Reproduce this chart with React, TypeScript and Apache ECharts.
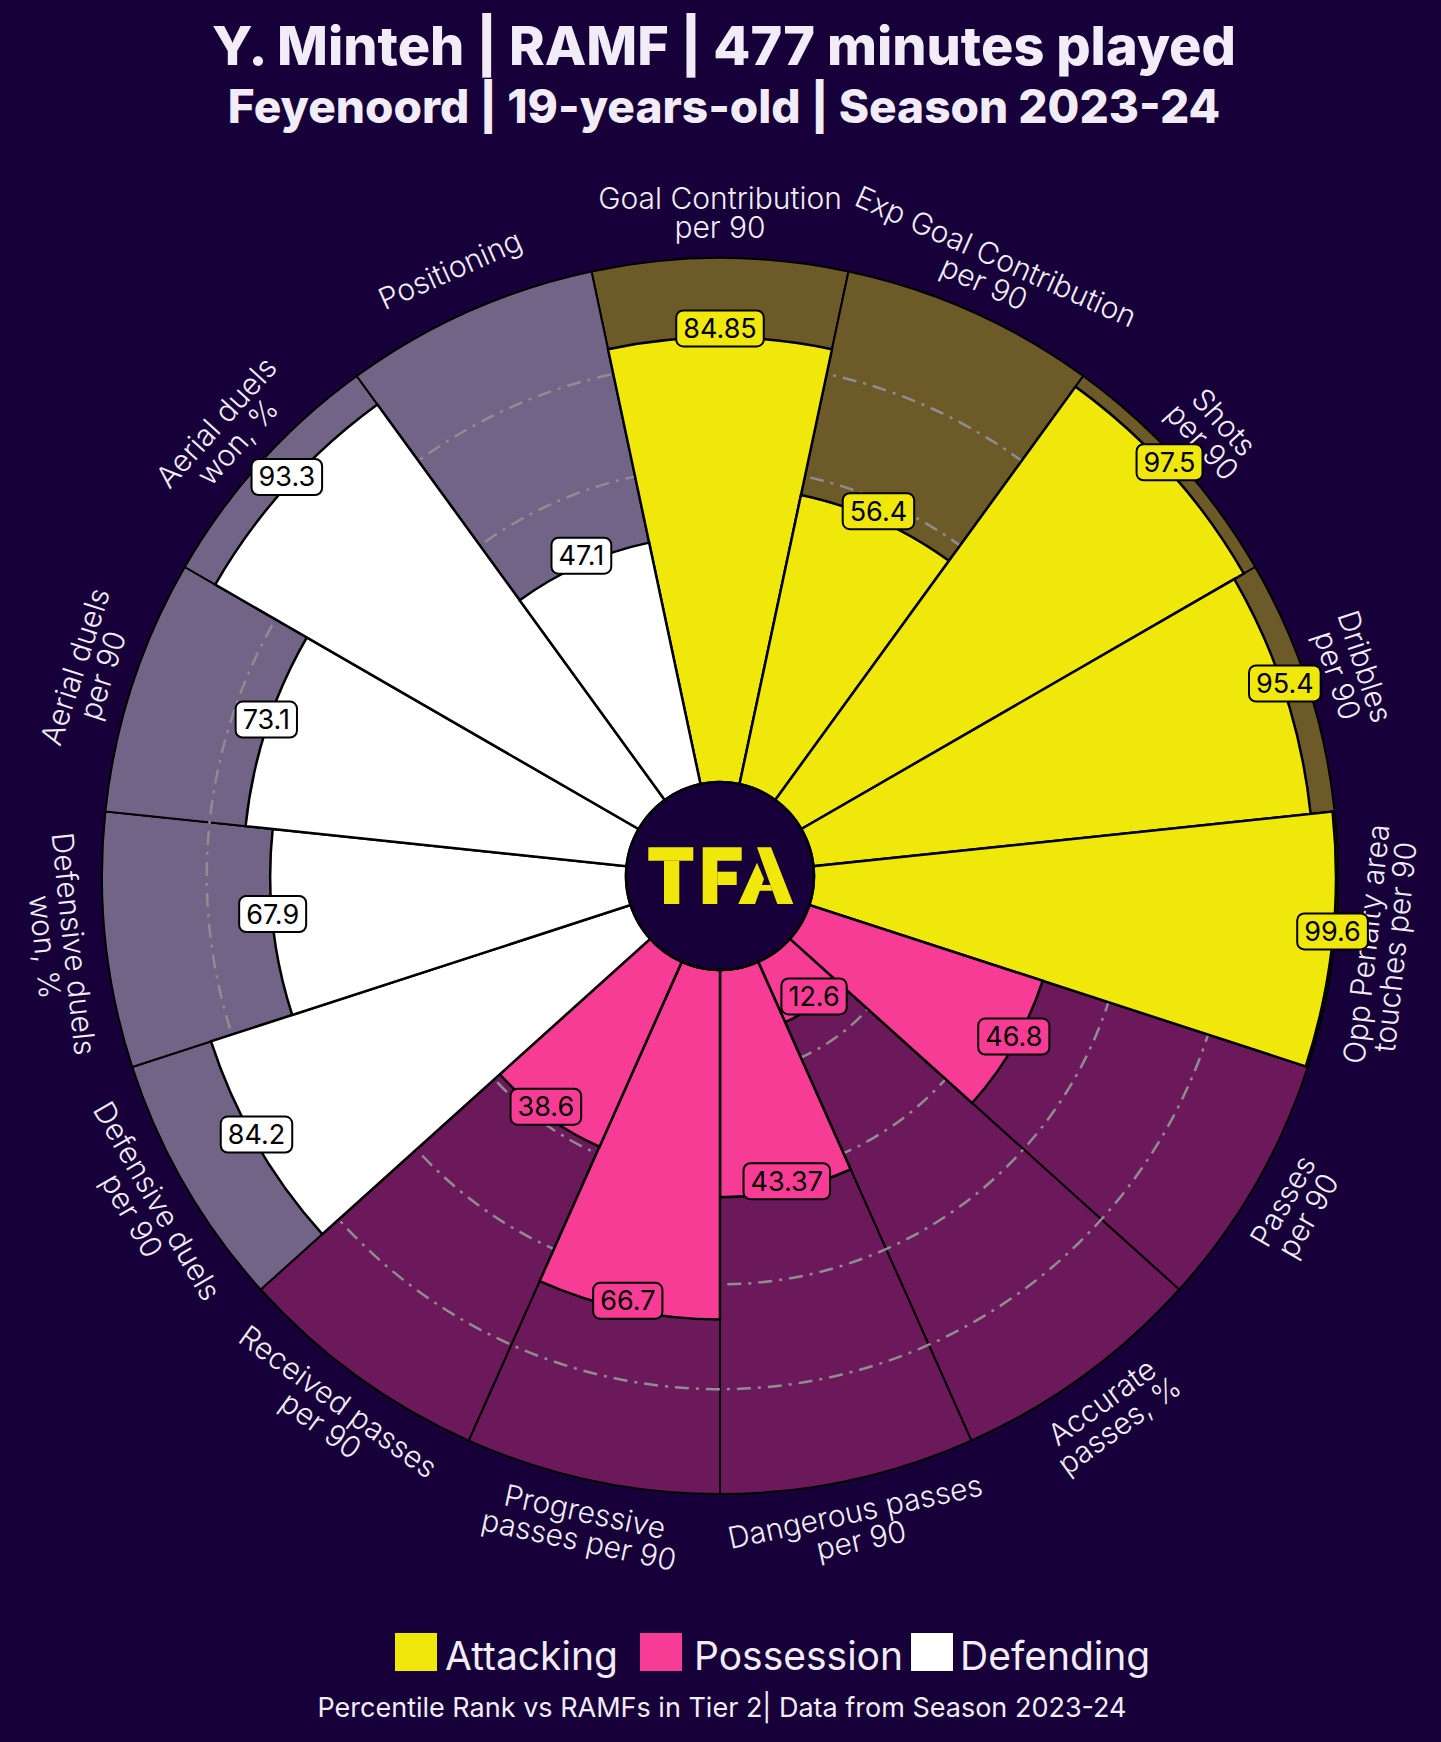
import React, { useEffect, useRef } from "react";
import * as echarts from "echarts";

const PAGE_W = 1441;
const PAGE_H = 1742;
const CX = 720;
const CY = 876;
const INNER_R = 94;
const OUTER_R = 618;
const LABEL_R = 664;
const BG = "#170039";
const TEXT_COLOR = "#F2ECF6";

const categories = [
  "Goal Contribution\nper 90",
  "Exp Goal Contribution\nper 90",
  "Shots\nper 90",
  "Dribbles\nper 90",
  "Opp Penalty area\ntouches per 90",
  "Passes\nper 90",
  "Accurate\npasses, %",
  "Dangerous passes\nper 90",
  "Progressive\npasses per 90",
  "Received passes\nper 90",
  "Defensive duels\nper 90",
  "Defensive duels\nwon, %",
  "Aerial duels\nper 90",
  "Aerial duels\nwon, %",
  "Positioning",
];

const groups = [
  "Attacking", "Attacking", "Attacking", "Attacking", "Attacking",
  "Possession", "Possession", "Possession", "Possession", "Possession",
  "Defending", "Defending", "Defending", "Defending", "Defending",
];

const values = [84.85, 56.4, 97.5, 95.4, 99.6, 46.8, 12.6, 43.37, 66.7, 38.6, 84.2, 67.9, 73.1, 93.3, 47.1];

const radiusMin = 0;
const radiusMax = 100;
const radiusInterval = 20;

const legendNames = ["Attacking", "Possession", "Defending"];

const barColors: Record<string, string> = {
  Attacking: "#F0E80A",
  Possession: "#F73C95",
  Defending: "#FFFFFF",
};
const sliceColors: Record<string, string> = {
  Attacking: "#6C5A29",
  Possession: "#6C195C",
  Defending: "#716487",
};

const titleText = "Y. Minteh | RAMF | 477 minutes played";
const subtitleText = "Feyenoord | 19-years-old | Season 2023-24";
const footerText = "Percentile Rank vs RAMFs in Tier 2| Data from Season 2023-24";

const LEGEND_SQ_X = [395, 640, 911];
const LEGEND_TX_X = [445, 694, 960];

function logoElements() {
  const Y = "#F0E80A";
  const poly = (pts: number[][]) => ({
    type: "polygon",
    z: 21,
    shape: { points: pts.map(([x, y]) => [CX + x, CY + y]) },
    style: { fill: Y },
  });
  return [
    poly([[-71.7, -28.7], [-26.7, -28.7], [-26.7, -15.3], [-71.7, -15.3]]),
    poly([[-56, -15.3], [-40.7, -15.3], [-40.7, 28], [-56, 28]]),
    poly([[-17.3, -28.7], [21.7, -28.7], [21.7, -15.3], [-2.7, -15.3], [-2.7, 28], [-17.3, 28]]),
    poly([[-2.7, -4.3], [16.7, -4.3], [16.7, 9], [-2.7, 9]]),
    poly([[37, -28.7], [51, -28.7], [73.3, 28], [57.3, 28]]),
    poly([[37, -13.3], [44, 3], [35, 28], [18.3, 28]]),
    poly([[28, 9], [50.5, 9], [52.5, 14.7], [26, 14.7]]),
  ];
}

export default function App() {
  const ref = useRef<HTMLDivElement>(null);

  useEffect(() => {
    document.body.style.margin = "0";
    document.body.style.background = BG;
    const chart = echarts.init(ref.current!, null, { renderer: "svg", width: PAGE_W, height: PAGE_H });

    const gridColors = [];
    for (let v = radiusMin; v <= radiusMax; v += radiusInterval) {
      gridColors.push(v === radiusMin || v === radiusMax ? "rgba(0,0,0,0)" : "#8E8E8E");
    }

    const legendGraphics: any[] = [];
    legendNames.forEach((name, k) => {
      legendGraphics.push({
        type: "rect",
        z: 20,
        shape: { x: LEGEND_SQ_X[k], y: 1633, width: 42, height: 38 },
        style: { fill: barColors[name] },
      });
      legendGraphics.push({
        type: "text",
        z: 20,
        x: LEGEND_TX_X[k],
        y: 1655,
        style: {
          text: name,
          fill: TEXT_COLOR,
          fontFamily: "Inter",
          fontWeight: 400,
          fontSize: 39,
          align: "left",
          verticalAlign: "middle",
        },
      });
    });

    const option: any = {
      animation: false,
      backgroundColor: BG,
      polar: { center: [CX, CY], radius: [INNER_R, OUTER_R] },
      angleAxis: {
        type: "category",
        data: categories,
        startAngle: 102,
        clockwise: true,
        boundaryGap: true,
        axisLine: { show: false },
        axisTick: { show: false },
        axisLabel: { show: false },
        splitLine: { show: false },
        splitArea: { show: false },
      },
      radiusAxis: {
        type: "value",
        min: radiusMin,
        max: radiusMax,
        interval: radiusInterval,
        z: 2,
        axisLine: { show: false },
        axisTick: { show: false },
        axisLabel: { show: false },
        splitLine: {
          show: true,
          lineStyle: { color: gridColors, width: 2.5, type: [14, 7, 3, 7] },
        },
      },
      series: [
        {
          type: "bar",
          name: "background",
          coordinateSystem: "polar",
          silent: true,
          z: 1,
          barCategoryGap: "0%",
          barGap: "-100%",
          data: groups.map((g) => ({ value: radiusMax, itemStyle: { color: sliceColors[g] } })),
          itemStyle: { borderColor: "#000000", borderWidth: 2 },
        },
        {
          type: "bar",
          name: "percentile",
          coordinateSystem: "polar",
          z: 3,
          barCategoryGap: "0%",
          barGap: "-100%",
          data: values.map((v, i) => ({ value: v, itemStyle: { color: barColors[groups[i]] } })),
          itemStyle: { borderColor: "#000000", borderWidth: 2.5 },
        },
        {
          type: "custom",
          name: "valueLabels",
          coordinateSystem: "polar",
          z: 5,
          encode: { radius: 0, angle: 1 },
          data: values.map((v, i) => [v, i]),
          renderItem: (params: any, api: any) => {
            const v = api.value(0);
            const i = api.value(1);
            const p = api.coord([v, i]);
            return {
              type: "text",
              x: p[0],
              y: p[1] - 9,
              z2: 10,
              style: {
                text: String(values[i]),
                fill: "#000000",
                fontFamily: "Inter",
                fontSize: 27,
                align: "center",
                verticalAlign: "middle",
                backgroundColor: barColors[groups[i]],
                borderColor: "#000000",
                borderWidth: 2,
                borderRadius: 6,
                padding: [4, 6, 3, 6],
              },
            };
          },
        },
        {
          type: "custom",
          name: "categoryLabels",
          coordinateSystem: "polar",
          z: 5,
          encode: { radius: 0, angle: 1 },
          data: categories.map((_, i) => [radiusMax, i]),
          renderItem: (params: any, api: any) => {
            const i = api.value(1);
            const p = api.coord([api.value(0), i]);
            const th = Math.atan2(-(p[1] - CY), p[0] - CX);
            let rot = (th * 180) / Math.PI - 90;
            while (rot > 180) rot -= 360;
            while (rot <= -180) rot += 360;
            if (rot > 90) rot -= 180;
            if (rot < -90) rot += 180;
            return {
              type: "text",
              x: CX + LABEL_R * Math.cos(th),
              y: CY - LABEL_R * Math.sin(th),
              rotation: (rot * Math.PI) / 180,
              style: {
                text: categories[i],
                fill: TEXT_COLOR,
                fontFamily: "Inter",
                fontWeight: 300,
                fontSize: 30,
                lineHeight: 29,
                align: "center",
                verticalAlign: "middle",
              },
            };
          },
        },
      ],
      graphic: [
        {
          type: "circle",
          z: 20,
          shape: { cx: CX, cy: CY, r: INNER_R },
          style: { fill: BG, stroke: "#000000", lineWidth: 2.5 },
        },
        ...logoElements(),
        {
          type: "text",
          z: 20,
          x: 724,
          y: 45,
          style: {
            text: titleText,
            fill: TEXT_COLOR,
            fontFamily: "Inter",
            fontWeight: 800,
            fontSize: 54,
            align: "center",
            verticalAlign: "middle",
          },
        },
        {
          type: "text",
          z: 20,
          x: 724,
          y: 106,
          style: {
            text: subtitleText,
            fill: TEXT_COLOR,
            fontFamily: "Inter",
            fontWeight: 800,
            fontSize: 46,
            align: "center",
            verticalAlign: "middle",
          },
        },
        ...legendGraphics,
        {
          type: "text",
          z: 20,
          x: 722,
          y: 1707,
          style: {
            text: footerText,
            fill: TEXT_COLOR,
            fontFamily: "Inter",
            fontWeight: 400,
            fontSize: 27,
            align: "center",
            verticalAlign: "middle",
          },
        },
      ],
    };

    chart.setOption(option);
    return () => chart.dispose();
  }, []);

  return (
    <div
      ref={ref}
      style={{ position: "absolute", left: 0, top: 0, width: PAGE_W, height: PAGE_H, background: BG }}
    />
  );
}
